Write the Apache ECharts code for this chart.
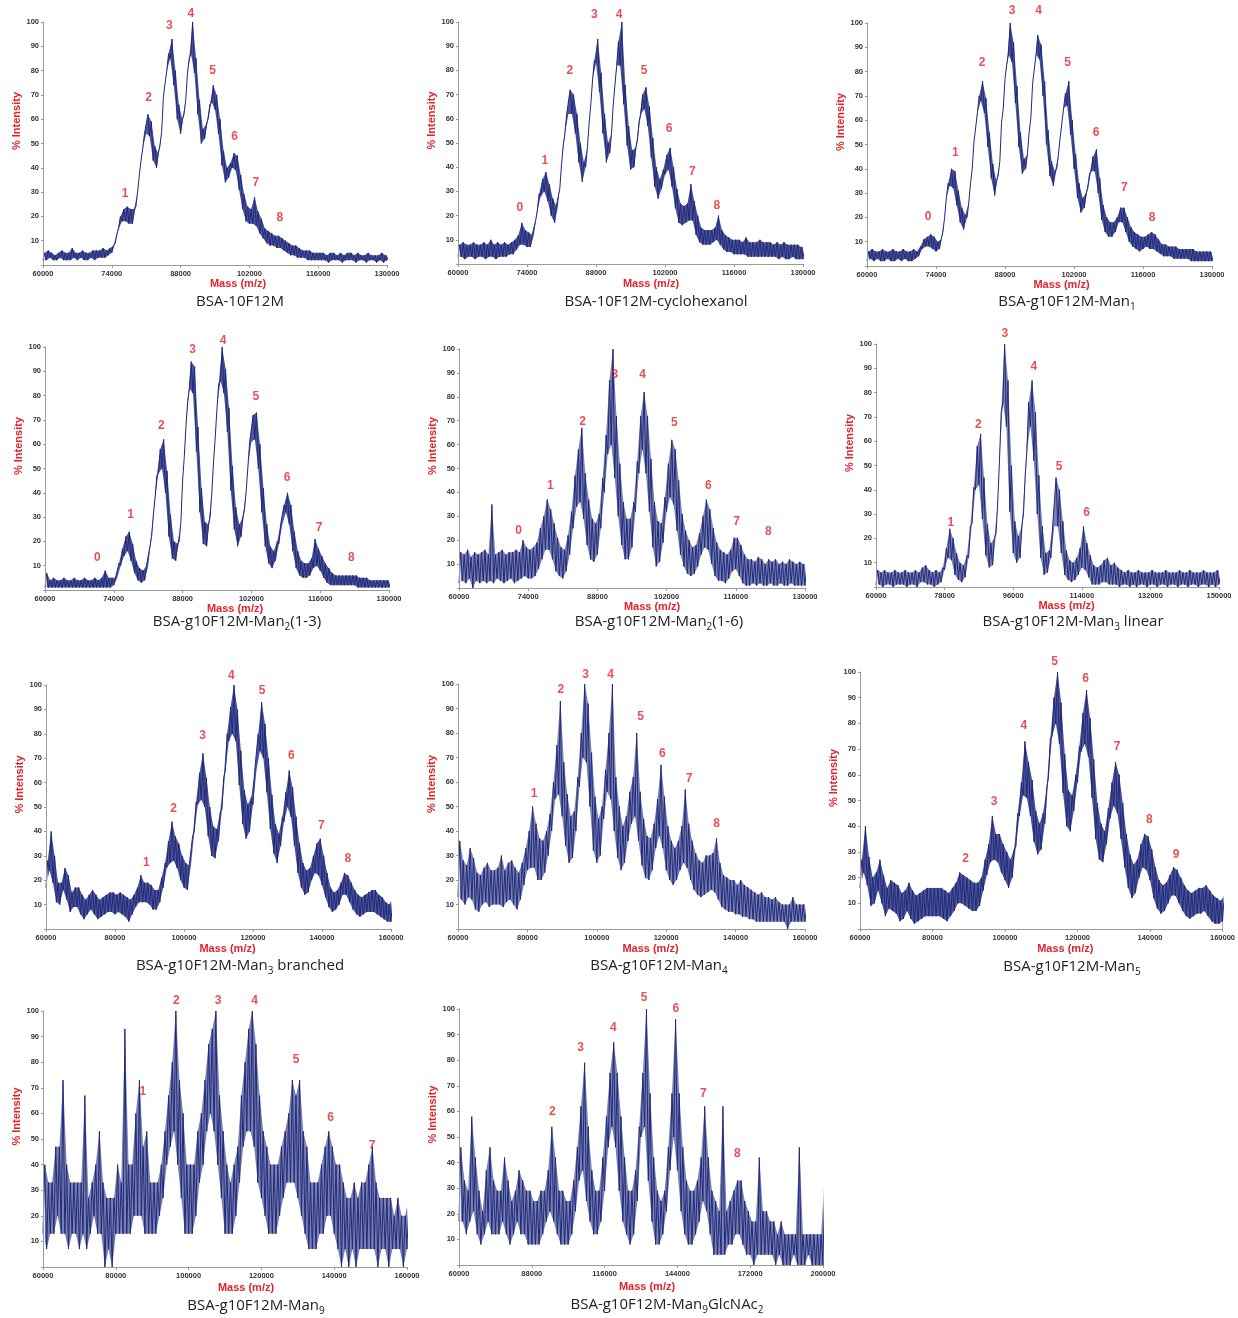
<!DOCTYPE html>
<html><head><meta charset="utf-8">
<script src="https://cdn.jsdelivr.net/npm/echarts@6/dist/echarts.min.js"></script>
<style>html,body{margin:0;padding:0;background:#fff}#c{width:1238px;height:1318px}</style>
</head><body><div id="c"></div>
<script>
// ---------- tick labels ----------
const TICKS_A = [60000,74000,88000,102000,116000,130000];
const TICKS_B = [60000,78000,96000,114000,132000,150000];
const TICKS_C = [60000,80000,100000,120000,140000,160000];
const TICKS_D = [60000,88000,116000,144000,172000,200000];
const Y_TICKS = [10,20,30,40,50,60,70,80,90,100];

// ---------- titles ----------
const TITLES = ['BSA-10F12M','BSA-10F12M-cyclohexanol','BSA-g10F12M-Man{s|1}','BSA-g10F12M-Man{s|2}(1-3)','BSA-g10F12M-Man{s|2}(1-6)','BSA-g10F12M-Man{s|3} linear','BSA-g10F12M-Man{s|3} branched','BSA-g10F12M-Man{s|4}','BSA-g10F12M-Man{s|5}','BSA-g10F12M-Man{s|9}','BSA-g10F12M-Man{s|9}GlcNAc{s|2}'];

// ---------- spectra: lower / upper envelope of the noisy trace, sampled on a regular mass grid ----------
// P1 BSA-10F12M : 60000..130000 step 700
const P1_lo = [2,2,3,2,2,3,2,2,2,3, 2,3,2,2,3,2,3,3,3,4, 5,9,15,18,18,17,17,24,37,48, 54,53,43,40,49,69,80,85,74,60, 54,62,79,87,79,62,50,52,60,67, 64,54,41,34,36,40,39,31,23,18, 17,17,16,13,11,9,8,8,7,7, 6,5,4,4,3,3,3,2,2,2, 2,2,2,1,2,2,2,1,2,2, 2,1,2,2,1,2,2,1,2,1,2];
const P1_hi = [5,6,5,4,5,6,5,5,7,5, 5,6,5,5,6,6,6,7,6,7, 8,13,20,23,24,23,23,30,43,54, 62,59,49,46,55,75,87,93,80,66, 60,68,85,100,85,68,56,58,66,74, 70,60,47,40,42,46,45,37,29,24, 23,28,22,19,15,14,13,12,12,11, 10,9,8,8,7,6,6,6,5,5, 5,5,4,5,5,4,5,4,5,5, 4,5,4,4,5,4,4,4,5,4,4];
// P2 BSA-10F12M-cyclohexanol : 60000..130000 step 700
const P2_lo = [3,3,2,3,3,2,3,3,2,3, 3,2,3,3,3,4,4,6,8,8, 7,7,12,22,28,30,26,20,17,24, 41,54,62,62,54,42,34,40,58,76, 83,71,54,42,46,66,82,82,66,49, 39,40,51,62,64,57,44,32,27,31, 37,39,32,23,17,16,17,18,18,12, 9,8,8,8,9,10,8,6,5,5, 4,4,4,4,3,3,3,3,3,3, 3,3,3,2,3,2,2,3,2,2,2];
const P2_hi = [8,9,8,8,9,8,8,9,8,10, 8,9,8,9,8,9,10,12,17,14, 13,12,18,29,35,38,33,27,24,31, 49,62,72,70,62,50,42,48,66,84, 93,79,62,50,54,74,92,100,74,57, 47,48,59,70,73,65,52,40,35,39, 45,48,40,31,25,24,25,33,26,20, 15,14,14,14,15,20,14,12,11,10, 10,10,9,11,9,9,9,10,9,9, 9,8,9,8,9,8,8,8,8,7,7];
// P3 Man1 : 60000..130000 step 700
const P3_lo = [2,3,2,3,2,2,3,2,2,3, 2,3,2,2,3,4,7,8,8,7, 6,7,14,28,33,32,25,18,15,20, 34,51,63,68,63,49,36,29,37,59, 77,87,84,67,49,38,40,55,75,87, 85,70,50,37,33,40,53,65,66,54, 40,28,22,24,32,39,39,30,19,14, 12,12,14,18,18,14,10,8,7,6, 7,8,7,7,6,5,4,4,4,3, 3,3,3,3,2,2,2,2,2,2,2];
const P3_hi = [6,7,6,6,7,6,6,7,6,6, 7,6,6,7,6,8,11,12,13,12, 10,11,20,34,40,39,31,24,21,26, 40,57,70,76,69,55,42,35,43,65, 83,100,92,74,55,44,46,61,81,95, 91,76,56,43,39,46,59,71,76,60, 46,34,28,30,38,45,48,36,25,20, 18,18,20,24,24,20,16,14,13,12, 12,13,14,13,11,9,9,8,8,8, 7,7,7,7,7,6,6,6,6,6,5];
// P4 Man2(1-3) : 60000..130000 step 700
const P4_lo = [1,1,1,1,1,1,1,1,1,1, 1,1,1,1,1,1,1,1,1,1, 2,5,10,14,16,12,7,4,3,4, 10,22,38,48,50,40,22,13,12,20, 45,68,83,81,57,32,19,18,30,53, 75,86,81,65,41,25,18,22,33,51, 61,62,50,32,18,11,9,12,19,27, 32,27,16,9,6,5,5,6,9,10, 8,5,3,2,2,2,2,2,2,2, 2,1,1,1,1,1,1,1,1,1,1];
const P4_hi = [7,4,5,4,4,5,4,4,5,4, 4,5,4,4,5,4,5,8,5,5, 5,11,17,22,24,19,12,9,8,10, 18,31,47,58,62,49,31,20,19,28, 55,78,94,92,67,42,28,27,40,63, 85,100,91,75,51,34,27,30,41,61, 72,73,60,42,27,18,16,20,27,35, 40,35,24,16,12,11,11,13,21,17, 14,11,9,7,6,6,6,6,6,6, 6,5,5,5,4,4,4,4,4,4,4];
// P5 Man2(1-6) : 60000..130000 step 700
const P5_lo = [2,3,2,4,0,3,2,3,2,3, 2,4,3,2,3,4,2,3,4,5, 4,4,5,8,12,16,16,12,7,5, 4,7,14,25,34,36,29,18,12,11, 14,25,40,56,60,46,30,18,12,12, 17,32,48,58,48,32,17,9,11,19, 32,38,35,24,14,9,6,5,6,9, 14,17,16,10,5,3,3,2,4,7, 8,5,2,1,1,2,1,2,1,1, 2,1,1,2,1,1,2,1,1,1,1];
const P5_hi = [15,14,16,13,15,14,15,16,14,35, 14,15,16,14,15,15,16,15,20,17, 16,17,19,25,30,37,33,27,21,17, 16,22,32,47,58,67,48,37,29,27, 31,46,64,87,100,72,52,36,29,29, 36,53,72,82,72,54,36,28,27,38, 52,62,58,45,31,24,20,17,18,23, 30,37,33,25,19,16,15,14,16,21, 21,18,14,12,12,11,13,12,10,12, 11,12,10,11,10,12,11,10,11,10,10];
// P6 Man3 linear : 60000..150000 step 900
const P6_lo = [1,1,0,1,1,0,1,1,1,0, 1,1,0,2,2,1,1,0,1,2, 7,12,11,5,3,2,4,12,26,40, 42,28,13,8,9,22,52,76,66,31, 14,10,12,30,56,66,52,30,12,5, 6,12,25,25,14,5,3,2,3,5, 8,7,4,1,1,1,2,2,1,1, 1,0,1,1,0,1,0,1,1,0, 1,1,0,1,1,0,1,1,0,1, 1,0,1,1,0,1,1,0,1,0,1];
const P6_hi = [7,6,7,6,6,7,6,6,7,6, 6,7,6,8,9,7,6,7,6,8, 16,24,20,14,10,9,13,25,41,58, 63,45,26,18,20,35,72,100,85,50, 27,21,25,46,76,85,72,46,25,14, 15,25,45,40,27,15,11,10,12,16, 25,18,13,9,8,9,11,12,9,10, 8,7,6,7,6,6,7,6,6,6, 7,6,6,6,7,6,6,6,7,6, 6,7,6,6,6,7,6,6,6,7,6];
// P7 Man3 branched : 60000..160000 step 1000
const P7_lo = [17,24,19,11,10,16,12,7,9,9, 6,4,6,8,6,4,5,6,7,7, 6,7,6,5,3,6,9,11,11,11, 10,8,8,11,17,25,27,28,25,20, 17,16,26,40,51,53,50,38,30,29, 36,49,65,77,80,77,59,43,37,40, 51,65,73,70,56,41,31,27,34,44, 50,46,34,23,17,14,15,20,23,22, 18,13,9,7,8,10,14,14,11,8, 6,5,6,7,7,7,6,5,4,3,3];
const P7_hi = [28,40,30,19,19,25,22,15,17,17, 14,12,14,16,14,12,13,14,15,15, 14,15,14,13,12,14,17,22,19,19, 18,16,16,21,27,36,44,38,35,30, 27,26,38,52,64,72,62,50,42,41, 48,62,80,91,100,90,73,57,51,54, 65,80,93,84,70,55,43,39,46,56, 65,58,46,35,27,24,25,30,35,37, 30,23,17,15,16,19,23,22,19,16, 14,13,14,15,16,16,14,13,11,10,13];
// P8 Man4 : 60000..160000 step 1000
const P8_lo = [13,12,10,13,12,8,7,10,11,9, 10,10,10,9,11,12,10,8,12,18, 24,25,25,20,20,23,30,40,53,55, 46,34,27,29,40,58,70,68,50,32, 27,30,45,56,53,40,29,24,27,36, 43,46,36,26,21,20,24,33,38,33, 24,20,18,20,24,27,25,20,16,14, 13,14,15,16,15,12,9,8,7,7, 6,6,5,5,4,4,3,3,3,3, 3,3,3,3,3,0,3,3,3,3,3];
const P8_hi = [36,28,26,33,29,23,22,25,27,24, 24,25,30,24,27,28,25,23,27,33, 40,50,43,37,36,40,47,60,75,93, 68,55,46,48,62,80,100,92,72,54, 45,50,65,80,100,62,50,42,46,56, 62,80,56,45,38,37,43,53,67,54, 42,36,33,36,42,57,43,36,31,28, 27,30,30,31,37,27,22,21,20,20, 18,20,18,17,16,15,14,15,13,13, 12,13,11,10,10,10,13,10,10,10,10];
// P9 Man5 : 60000..160000 step 1000
const P9_lo = [16,22,17,9,10,15,10,5,8,7, 6,3,4,7,4,2,3,4,5,5, 5,5,5,4,3,5,7,10,10,9, 8,7,7,9,15,21,26,27,26,22, 19,16,20,32,44,52,51,44,34,29, 31,41,59,75,80,72,53,40,38,46, 57,69,72,67,51,35,27,26,33,43, 48,45,35,24,16,12,14,20,24,23, 19,12,8,6,7,10,13,13,10,7, 5,4,5,6,6,7,5,3,2,2,3];
const P9_hi = [27,40,28,20,22,27,21,16,19,18, 17,14,15,18,15,13,14,15,16,16, 16,16,16,15,14,16,18,22,21,20, 19,18,18,20,27,33,44,37,37,33, 30,27,31,45,57,73,65,58,46,41, 45,55,74,90,100,88,68,54,52,60, 71,84,93,82,66,49,41,38,47,57, 65,60,49,37,29,25,27,33,37,36, 31,24,19,17,18,21,24,23,20,17, 15,14,15,16,16,17,15,13,12,11,13];
// P10 Man9 : 60000..160000 step 1000
const P10_lo = [13,7,13,13,20,13,13,7,13,13, 7,13,7,13,20,13,13,0,7,0, 13,13,13,13,13,20,20,20,13,13, 13,13,20,27,40,47,53,40,27,13, 13,13,20,33,40,53,60,53,40,27, 13,13,13,20,33,47,53,53,47,33, 27,20,13,13,13,20,27,33,33,33, 27,20,13,7,7,7,13,13,20,20, 13,7,0,7,0,7,0,7,7,7, 7,7,0,7,7,0,7,7,7,0,7];
const P10_hi = [40,33,33,47,47,73,40,33,33,33, 33,67,27,33,40,53,33,27,27,27, 40,33,93,40,40,60,73,47,53,33, 33,33,40,53,67,80,100,73,60,40, 40,40,53,60,73,87,93,100,67,53, 40,33,40,47,67,80,93,100,87,67, 53,47,40,40,40,47,53,60,73,67, 73,53,47,33,33,33,40,47,53,47, 40,40,33,27,27,33,27,33,33,40, 47,33,27,27,27,27,20,27,20,20,27];
// P11 Man9GlcNAc2 : 60000..200000 step 1400
const P11_lo = [17,17,12,17,21,12,8,12,17,12, 12,12,17,12,8,12,17,12,12,8, 8,8,8,12,17,21,17,12,8,8, 8,12,21,33,37,25,17,12,12,17, 29,46,54,46,29,17,12,8,12,25, 50,54,33,17,8,8,12,21,37,50, 37,21,12,8,8,12,17,25,21,12, 4,4,4,4,8,8,12,12,8,4, 4,0,4,4,4,4,4,0,4,0, 0,0,4,0,0,0,4,0,0,0,0];
const P11_hi = [46,33,29,58,42,29,21,37,46,33, 29,29,42,33,25,29,37,33,29,29, 25,25,29,29,37,54,42,29,29,25, 25,33,46,62,79,54,37,29,29,42, 58,75,87,75,58,42,29,29,37,54, 75,100,67,42,29,25,29,46,67,96, 67,46,33,29,29,33,42,62,42,29, 25,21,62,21,25,29,33,33,25,21, 17,17,42,21,21,17,17,12,17,12, 12,12,12,46,12,12,12,12,12,12,37];

// ---------- numbered peak labels ----------
const P1_peakNames = ['1','2','3','4','5','6','7','8'];
const P1_peakMass = [76700,81500,85700,90100,94500,99000,103300,108200];
const P1_peakY = [29.5,69,98.6,103.4,80,52.7,33.8,19.5];
const P2_peakNames = ['0','1','2','3','4','5','6','7','8'];
const P2_peakMass = [72540,77620,82700,87650,92660,97740,102820,107570,112520];
const P2_peakY = [23.3,42.5,80,103,103,80,55.8,38,24];
const P3_peakNames = ['0','1','2','3','4','5','6','7','8'];
const P3_peakMass = [72380,77920,83340,89420,94830,100710,106460,112200,117830];
const P3_peakY = [20.2,46.6,83.5,105,105,83.5,55,32.3,20];
const P4_peakNames = ['0','1','2','3','4','5','6','7','8'];
const P4_peakMass = [70640,77410,83650,90020,96250,102880,109260,115760,122340];
const P4_peakY = [13.2,31,67.8,98.9,102.7,79.4,46.4,25.5,13.2];
const P5_peakNames = ['0','1','2','3','4','5','6','7','8'];
const P5_peakMass = [72080,78500,84980,91530,97130,103540,110420,116160,122570];
const P5_peakY = [23.9,43,69.4,89.2,89.2,69,42.7,27.8,23.6];
const P6_peakNames = ['1','2','3','4','5','6'];
const P6_peakMass = [79660,86830,93810,101420,108060,115230];
const P6_peakY = [26.5,67,104.4,90.7,49.5,30.6];
const P7_peakNames = ['1','2','3','4','5','6','7','8'];
const P7_peakMass = [89080,97000,105400,113700,122600,131100,139800,147500];
const P7_peakY = [27.3,49.5,79.3,103.8,97.5,71,42.4,29];
const P8_peakNames = ['1','2','3','4','5','6','7','8'];
const P8_peakMass = [81900,89600,96800,104000,112600,118900,126600,134500];
const P8_peakY = [55.4,97.7,103.8,103.8,86.5,71.4,61.3,42.8];
const P9_peakNames = ['2','3','4','5','6','7','8','9'];
const P9_peakMass = [89100,97000,105200,113700,122200,130900,139800,147200];
const P9_peakY = [27.5,49.5,79,104,97.4,70.9,42.4,28.8];
const P10_peakNames = ['1','2','3','4','5','6','7'];
const P10_peakMass = [87400,96600,108100,118100,129500,139000,150400];
const P10_peakY = [68.4,104,104,104,81,58.3,47.5];
const P11_peakNames = ['2','3','4','5','6','7','8'];
const P11_peakMass = [95930,106800,119400,131200,143400,154000,167100];
const P11_peakY = [60,84.7,92.6,104.3,100,66.8,43.3];

// ---------- panel definitions (data refs) ----------
const PANELS = [
  {lo:P1_lo, hi:P1_hi, start:60000, step:700, xmin:60000, xmax:130000, ticks:TICKS_A, pn:P1_peakNames, pm:P1_peakMass, py:P1_peakY, noisy:false},
  {lo:P2_lo, hi:P2_hi, start:60000, step:700, xmin:60000, xmax:130000, ticks:TICKS_A, pn:P2_peakNames, pm:P2_peakMass, py:P2_peakY, noisy:false},
  {lo:P3_lo, hi:P3_hi, start:60000, step:700, xmin:60000, xmax:130000, ticks:TICKS_A, pn:P3_peakNames, pm:P3_peakMass, py:P3_peakY, noisy:false},
  {lo:P4_lo, hi:P4_hi, start:60000, step:700, xmin:60000, xmax:130000, ticks:TICKS_A, pn:P4_peakNames, pm:P4_peakMass, py:P4_peakY, noisy:false},
  {lo:P5_lo, hi:P5_hi, start:60000, step:700, xmin:60000, xmax:130000, ticks:TICKS_A, pn:P5_peakNames, pm:P5_peakMass, py:P5_peakY, noisy:true},
  {lo:P6_lo, hi:P6_hi, start:60000, step:900, xmin:60000, xmax:150000, ticks:TICKS_B, pn:P6_peakNames, pm:P6_peakMass, py:P6_peakY, noisy:true},
  {lo:P7_lo, hi:P7_hi, start:60000, step:1000, xmin:60000, xmax:160000, ticks:TICKS_C, pn:P7_peakNames, pm:P7_peakMass, py:P7_peakY, noisy:false},
  {lo:P8_lo, hi:P8_hi, start:60000, step:1000, xmin:60000, xmax:160000, ticks:TICKS_C, pn:P8_peakNames, pm:P8_peakMass, py:P8_peakY, noisy:true},
  {lo:P9_lo, hi:P9_hi, start:60000, step:1000, xmin:60000, xmax:160000, ticks:TICKS_C, pn:P9_peakNames, pm:P9_peakMass, py:P9_peakY, noisy:false},
  {lo:P10_lo, hi:P10_hi, start:60000, step:1000, xmin:60000, xmax:160000, ticks:TICKS_C, pn:P10_peakNames, pm:P10_peakMass, py:P10_peakY, noisy:true},
  {lo:P11_lo, hi:P11_hi, start:60000, step:1400, xmin:60000, xmax:200000, ticks:TICKS_D, pn:P11_peakNames, pm:P11_peakMass, py:P11_peakY, noisy:true}
];

// ---------- layout (pixels) ----------
const LAYOUT = [
  {l:43, t:22, w:344, h:243, tx:240, ty:302, xg:13, xp:46, yg:18},
  {l:458, t:22, w:345, h:242, tx:656, ty:302, xg:14, xp:41, yg:18},
  {l:867, t:23, w:345, h:243, tx:1067, ty:302, xg:13, xp:44, yg:20},
  {l:45, t:347, w:344, h:243, tx:237, ty:622, xg:12, xp:36, yg:20},
  {l:459, t:349, w:346, h:239, tx:659, ty:622, xg:12, xp:40, yg:20},
  {l:876, t:344, w:343, h:243, tx:1073, ty:622, xg:13, xp:38, yg:18},
  {l:46, t:685, w:345, h:244, tx:240, ty:966, xg:14, xp:18, yg:20},
  {l:458, t:684, w:347, h:245, tx:659, ty:966, xg:14, xp:38, yg:20},
  {l:860, t:672, w:363, h:257, tx:1072, ty:967, xg:14, xp:48, yg:21},
  {l:43, t:1011, w:364, h:256, tx:256, ty:1306, xg:15, xp:42, yg:21},
  {l:459, t:1009, w:364, h:256, tx:667, ty:1305, xg:16, xp:12, yg:21}
];

const RED = '#e2232b', NAVY = '#212b7c', AXIS = '#9a9a9a', TICKTXT = '#333';
const grid = [], xAxis = [], yAxis = [], series = [], graphic = [];

function envelopeLine(p) {
  const d = [];
  for (let i = 0; i < p.lo.length; i++) {
    const m = p.start + i * p.step;
    d.push([m, p.lo[i]]);
    d.push([m + p.step / 2, p.hi[i]]);
  }
  return d;
}
function edge(p, arr, off) {
  return arr.map((v, i) => [p.start + i * p.step + off, v]);
}

PANELS.forEach((p, i) => {
  const L = LAYOUT[i];
  grid.push({left: L.l, top: L.t, width: L.w, height: L.h, containLabel: false});
  xAxis.push({
    type: 'value', gridIndex: i, min: p.xmin, max: p.xmax, z: 10,
    name: 'Mass (m/z)', nameLocation: 'middle', nameGap: L.xg,
    nameTextStyle: {color: RED, fontWeight: 'bold', fontSize: 11, fontFamily: 'Liberation Sans', padding: [0, 0, 0, L.xp]},
    axisLine: {show: true, lineStyle: {color: AXIS, width: 1}},
    axisTick: {show: true, length: 3, customValues: p.ticks, lineStyle: {color: AXIS}},
    axisLabel: {customValues: p.ticks, formatter: v => String(v), fontSize: 7.5, fontWeight: 'bold', color: TICKTXT, fontFamily: 'Liberation Sans', margin: 5, showMinLabel: true, showMaxLabel: true},
    splitLine: {show: false}
  });
  yAxis.push({
    type: 'value', gridIndex: i, min: 0, max: 100, interval: 10, z: 10,
    name: '% Intensity', nameLocation: 'middle', nameGap: L.yg, nameRotate: 90,
    nameTextStyle: {color: RED, fontWeight: 'bold', fontSize: 11, fontFamily: 'Liberation Sans', padding: [0, 0, 0, 45]},
    axisLine: {show: true, lineStyle: {color: AXIS, width: 1}},
    axisTick: {show: true, length: 2, lineStyle: {color: AXIS}},
    axisLabel: {formatter: v => (Y_TICKS.indexOf(v) >= 0 ? String(v) : ''), fontSize: 7.5, fontWeight: 'bold', color: TICKTXT, fontFamily: 'Liberation Sans', margin: 4},
    splitLine: {show: false}
  });
  // upper envelope filled down (navy), then lower envelope filled down (white) -> band between them
  series.push({
    type: 'line', xAxisIndex: i, yAxisIndex: i, data: edge(p, p.hi, p.step / 2), z: 1,
    showSymbol: false, symbol: 'none', clip: true, silent: true, animation: false,
    lineStyle: {width: 0}, areaStyle: {color: NAVY, opacity: p.noisy ? 0.6 : 0.8}
  });
  series.push({
    type: 'line', xAxisIndex: i, yAxisIndex: i, data: edge(p, p.lo, 0), z: 1,
    showSymbol: false, symbol: 'none', clip: true, silent: true, animation: false,
    lineStyle: {width: 0}, areaStyle: {color: '#ffffff', opacity: 1}
  });
  series.push({
    type: 'line', xAxisIndex: i, yAxisIndex: i, data: envelopeLine(p), z: 2,
    showSymbol: false, symbol: 'none', clip: true, silent: true, animation: false,
    lineStyle: {color: NAVY, width: 1}
  });
  series.push({
    type: 'scatter', xAxisIndex: i, yAxisIndex: i, clip: false, silent: true, animation: false, z: 3,
    data: p.pn.map((n, k) => [p.pm[k], p.py[k], n]),
    symbolSize: 1, itemStyle: {color: 'rgba(0,0,0,0)'},
    label: {show: true, position: 'inside', formatter: q => q.value[2], color: RED, fontWeight: 'bold', fontSize: 12, fontFamily: 'Liberation Sans'}
  });
  graphic.push({
    type: 'text', x: L.tx, y: L.ty, silent: true,
    style: {
      text: TITLES[i], fontSize: 15, fontFamily: 'Open Sans', fill: '#222',
      align: 'center', verticalAlign: 'middle', textAlign: 'center', textVerticalAlign: 'middle',
      lineHeight: 20,
      rich: {s: {fontSize: 10, fontFamily: 'Open Sans', fill: '#222', lineHeight: 10, verticalAlign: 'bottom'}}
    }
  });
});

const chart = echarts.init(document.getElementById('c'), null, {renderer: 'canvas'});
chart.setOption({backgroundColor: '#fff', animation: false, grid, xAxis, yAxis, series, graphic});
</script>
</body></html>
